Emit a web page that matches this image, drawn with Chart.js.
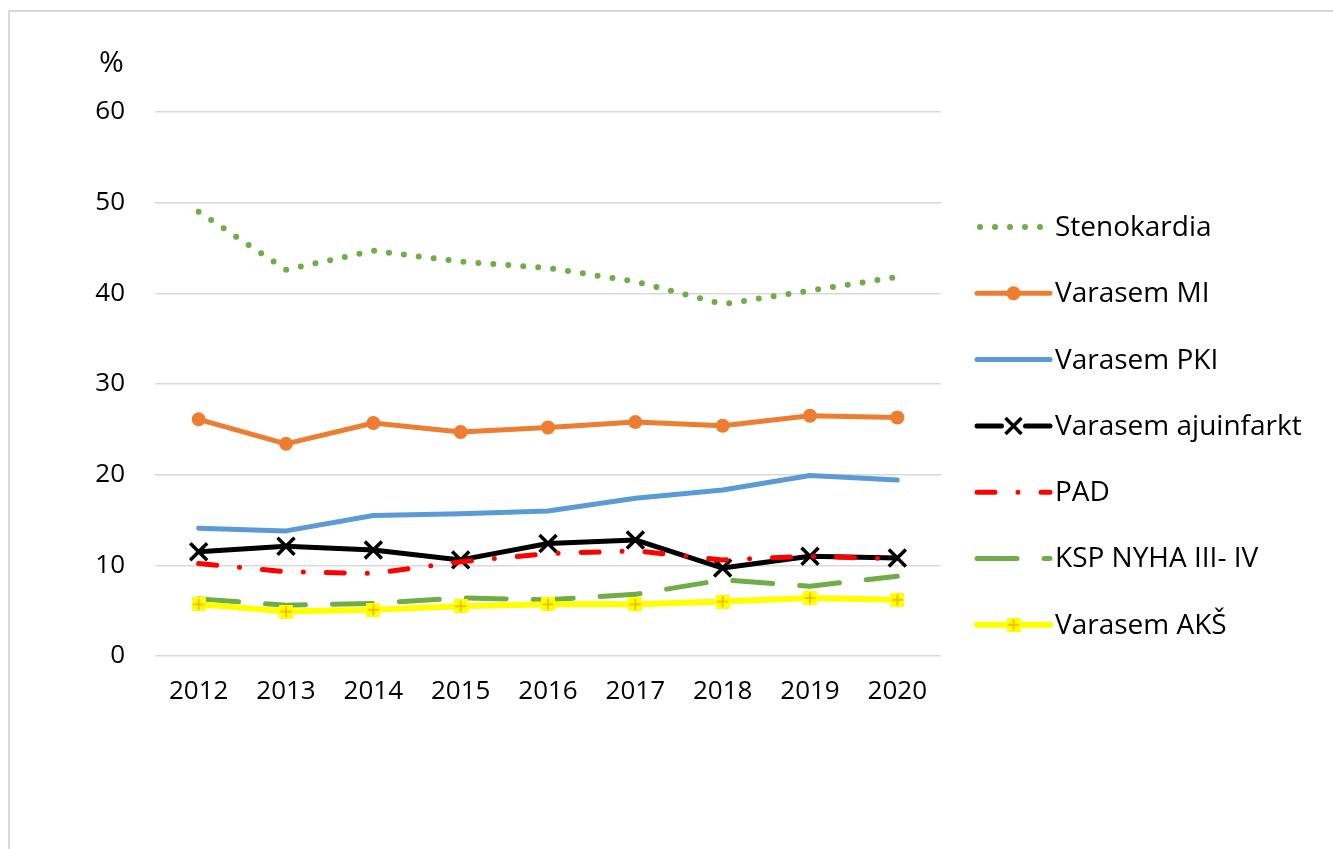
<!DOCTYPE html>
<html lang="et">
<head>
    <meta charset="UTF-8">
    <title>Kaasuvad haigused</title>
    <script src="https://cdn.jsdelivr.net/npm/chart.js"></script>
    <style>
        body { margin: 0; background: #fff; }
        #frame {
            position: absolute; left: 8px; top: 10px; width: 1340px; height: 860px;
            border-left: 2px solid #d9d9d9; border-top: 2px solid #d9d9d9;
        }
        #wrap { position: absolute; left: 0; top: 0; width: 1333px; height: 849px; }
        #unit {
            position: absolute; left: 99px; top: 40px;
            font: 30px "Open Sans", sans-serif; color: #000;
        }
    </style>
</head>
<body>
<div id="frame"></div>
<div id="wrap"><canvas id="myChart" width="1333" height="849"></canvas></div>
<div id="unit">%</div>

<script>
    // andmed
    var years = ['2012', '2013', '2014', '2015', '2016', '2017', '2018', '2019', '2020'];
    var stenokardia = [49.0, 42.6, 44.7, 43.5, 42.8, 41.3, 38.8, 40.3, 41.8];
    var varasemMI = [26.1, 23.4, 25.7, 24.7, 25.2, 25.8, 25.4, 26.5, 26.3];
    var varasemPKI = [14.1, 13.8, 15.5, 15.7, 16.0, 17.4, 18.3, 19.9, 19.4];
    var ajuinfarkt = [11.5, 12.1, 11.7, 10.6, 12.4, 12.8, 9.7, 11.0, 10.8];
    var pad = [10.2, 9.3, 9.1, 10.4, 11.3, 11.6, 10.6, 11.0, 10.7];
    var kspNyha = [6.3, 5.6, 5.8, 6.4, 6.2, 6.8, 8.4, 7.7, 8.8];
    var varasemAKS = [5.7, 4.9, 5.1, 5.5, 5.7, 5.7, 6.0, 6.4, 6.2];
    var yTicks = [0, 10, 20, 30, 40, 50, 60];

    var FONT = '"Open Sans", sans-serif';

    // kollane ruut oranži plussiga (AKŠ marker)
    function makePlus() {
        var c = document.createElement('canvas');
        c.width = 14; c.height = 14;
        var g = c.getContext('2d');
        g.fillStyle = '#FFFF00';
        g.fillRect(0, 0, 14, 14);
        g.strokeStyle = '#F0B000';
        g.lineWidth = 1.5;
        g.beginPath();
        g.moveTo(7, 1.5); g.lineTo(7, 12.5);
        g.moveTo(1.5, 7); g.lineTo(12.5, 7);
        g.stroke();
        return c;
    }
    var plusImg = makePlus();

    var series = [
        { label: 'Stenokardia', data: stenokardia, color: '#70AD47', width: 6, dash: [0, 15], point: false },
        { label: 'Varasem MI', data: varasemMI, color: '#ED7D31', width: 5, dash: [], point: 'circle', radius: 7 },
        { label: 'Varasem PKI', data: varasemPKI, color: '#5B9BD5', width: 5, dash: [], point: false },
        { label: 'Varasem ajuinfarkt', data: ajuinfarkt, color: '#000000', width: 5, dash: [], point: 'crossRot', radius: 12 },
        { label: 'PAD', data: pad, color: '#FF0000', width: 5, dash: [18, 23, 0, 23], point: false },
        { label: 'KSP NYHA III- IV', data: kspNyha, color: '#70AD47', width: 5, dash: [40, 27], point: false },
        { label: 'Varasem AKŠ', data: varasemAKS, color: '#FFFF00', width: 6, dash: [], point: plusImg, radius: 7 }
    ];

    var datasets = series.map(function (s, i) {
        return {
            label: s.label,
            data: s.data,
            borderColor: s.color,
            backgroundColor: s.color,
            borderWidth: s.width,
            borderDash: s.dash,
            borderCapStyle: 'round',
            borderJoinStyle: 'round',
            tension: 0,
            order: series.length - i,
            pointStyle: s.point || 'circle',
            pointRadius: s.point ? s.radius : 0,
            pointHoverRadius: s.point ? s.radius : 0,
            pointBorderWidth: s.point === 'crossRot' ? 3.5 : 0,
            pointBorderColor: s.color,
            pointBackgroundColor: s.color
        };
    });

    // legend paremal
    var legendPlugin = {
        id: 'sideLegend',
        afterDraw: function (chart) {
            var ctx = chart.ctx;
            var x0 = 977, x1 = 1050, y0 = 227, step = 66.3;
            ctx.save();
            series.forEach(function (s, i) {
                var y = y0 + i * step;
                var mid = (x0 + x1) / 2;
                ctx.strokeStyle = s.color;
                ctx.lineWidth = s.width;
                ctx.lineCap = 'round';
                ctx.setLineDash(s.dash);
                ctx.beginPath();
                if (s.point === 'crossRot') {
                    ctx.moveTo(x0, y); ctx.lineTo(mid - 12, y);
                    ctx.moveTo(mid + 12, y); ctx.lineTo(x1, y);
                } else {
                    ctx.moveTo(s.dash.length && s.dash[0] === 0 ? x0 + 3 : x0, y);
                    ctx.lineTo(x1, y);
                }
                ctx.stroke();
                ctx.setLineDash([]);
                if (s.point === 'circle') {
                    ctx.fillStyle = s.color;
                    ctx.beginPath();
                    ctx.arc(mid, y, 7, 0, Math.PI * 2);
                    ctx.fill();
                } else if (s.point === 'crossRot') {
                    ctx.lineWidth = 3.5;
                    ctx.lineCap = 'butt';
                    ctx.beginPath();
                    ctx.moveTo(mid - 8, y - 8); ctx.lineTo(mid + 8, y + 8);
                    ctx.moveTo(mid + 8, y - 8); ctx.lineTo(mid - 8, y + 8);
                    ctx.stroke();
                } else if (s.point && s.point.getContext) {
                    ctx.drawImage(s.point, mid - 7, y - 7);
                }
                ctx.fillStyle = '#000';
                ctx.font = '28px ' + FONT;
                ctx.textBaseline = 'middle';
                ctx.textAlign = 'left';
                ctx.fillText(s.label, 1055, y + 1);
            });
            ctx.restore();
        }
    };

    var ctx = document.getElementById('myChart').getContext('2d');
    var myChart = new Chart(ctx, {
        type: 'line',
        data: { labels: years, datasets: datasets },
        plugins: [legendPlugin],
        options: {
            responsive: false,
            animation: false,
            devicePixelRatio: 1,
            layout: { padding: { left: 0, top: 112, right: 392, bottom: 0 } },
            plugins: { legend: { display: false }, tooltip: { enabled: false } },
            scales: {
                x: {
                    offset: true,
                    grid: { display: false, drawTicks: false },
                    border: { display: false },
                    ticks: { color: '#000', font: { family: FONT, size: 26 }, padding: 20, maxRotation: 0 },
                    afterFit: function (scale) { scale.height = 193; }
                },
                y: {
                    min: 0,
                    max: 60,
                    afterBuildTicks: function (scale) {
                        scale.ticks = yTicks.map(function (v) { return { value: v }; });
                    },
                    grid: { color: '#d9d9d9', lineWidth: 1.5, drawTicks: false },
                    border: { display: false },
                    ticks: { color: '#000', font: { family: FONT, size: 26 }, padding: 30 },
                    afterFit: function (scale) { scale.width = 155; }
                }
            }
        }
    });
</script>

</body>
</html>
